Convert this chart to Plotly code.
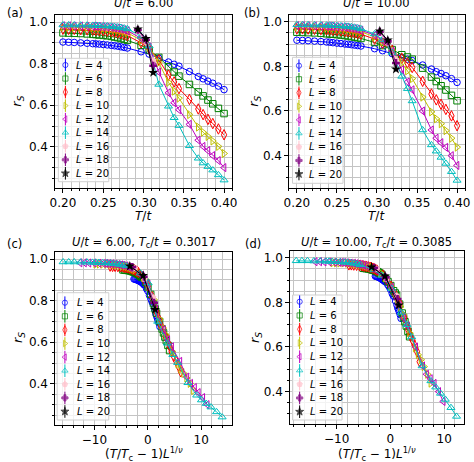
import plotly.graph_objects as go

W, H = 474, 462
FONT = "DejaVu Sans"

# ---------------- data ----------------
L_SMALL = [4, 6, 8, 10, 12, 14]
L_BIG = [16, 18, 20]

T_GRID = [0.200, 0.207, 0.214, 0.222, 0.230, 0.237, 0.241, 0.245, 0.250, 0.255,
          0.260, 0.264, 0.268, 0.272, 0.276, 0.280, 0.297, 0.307, 0.319, 0.331,
          0.338, 0.344, 0.357, 0.368, 0.374, 0.380, 0.386, 0.393, 0.400]

# U/t = 6
rs_u6_L4 = [0.904, 0.903, 0.902, 0.900, 0.898, 0.896, 0.895, 0.894, 0.892, 0.890, 0.888, 0.886, 0.884, 0.881, 0.878, 0.875, 0.857, 0.846, 0.826, 0.808, 0.797, 0.788, 0.762, 0.738, 0.727, 0.716, 0.706, 0.692, 0.675]
rs_u6_L6 = [0.948, 0.947, 0.946, 0.945, 0.943, 0.941, 0.940, 0.938, 0.936, 0.934, 0.931, 0.928, 0.925, 0.921, 0.917, 0.912, 0.888, 0.866, 0.830, 0.785, 0.760, 0.740, 0.700, 0.664, 0.645, 0.625, 0.607, 0.585, 0.560]
rs_u6_L8 = [0.966, 0.965, 0.965, 0.964, 0.963, 0.962, 0.961, 0.960, 0.958, 0.956, 0.954, 0.951, 0.948, 0.945, 0.940, 0.935, 0.900, 0.872, 0.818, 0.745, 0.712, 0.680, 0.628, 0.582, 0.555, 0.532, 0.512, 0.486, 0.458]
rs_u6_L10 = [0.976, 0.976, 0.975, 0.975, 0.974, 0.973, 0.972, 0.971, 0.970, 0.968, 0.966, 0.964, 0.961, 0.958, 0.954, 0.949, 0.912, 0.878, 0.805, 0.710, 0.668, 0.634, 0.555, 0.495, 0.470, 0.450, 0.428, 0.402, 0.368]
rs_u6_L12 = [0.982, 0.982, 0.981, 0.981, 0.980, 0.979, 0.979, 0.978, 0.977, 0.976, 0.974, 0.972, 0.970, 0.967, 0.963, 0.958, 0.922, 0.880, 0.760, 0.660, 0.612, 0.578, 0.508, 0.432, 0.402, 0.382, 0.358, 0.334, 0.300]
rs_u6_L14 = [0.986, 0.986, 0.986, 0.985, 0.985, 0.984, 0.984, 0.983, 0.982, 0.981, 0.980, 0.978, 0.976, 0.974, 0.971, 0.967, 0.932, 0.885, 0.700, 0.595, 0.540, 0.502, 0.405, 0.345, 0.322, 0.305, 0.288, 0.265, 0.240]
T_BIG_U6 = [0.293, 0.303, 0.312]
rs_u6_L16 = [0.955, 0.905, 0.815]
rs_u6_L18 = [0.962, 0.915, 0.790]
rs_u6_L20 = [0.966, 0.920, 0.757]

# U/t = 10
rs_u10_L4 = [0.917, 0.916, 0.915, 0.913, 0.911, 0.909, 0.908, 0.906, 0.904, 0.902, 0.900, 0.899, 0.897, 0.895, 0.893, 0.891, 0.879, 0.870, 0.857, 0.840, 0.832, 0.826, 0.806, 0.788, 0.776, 0.768, 0.758, 0.745, 0.728]
rs_u10_L6 = [0.953, 0.952, 0.951, 0.950, 0.948, 0.946, 0.945, 0.944, 0.942, 0.940, 0.938, 0.936, 0.933, 0.931, 0.928, 0.925, 0.907, 0.893, 0.875, 0.852, 0.842, 0.832, 0.792, 0.752, 0.732, 0.713, 0.694, 0.670, 0.646]
rs_u10_L8 = [0.968, 0.968, 0.967, 0.966, 0.965, 0.964, 0.963, 0.962, 0.961, 0.959, 0.957, 0.955, 0.953, 0.950, 0.947, 0.944, 0.922, 0.903, 0.872, 0.836, 0.815, 0.795, 0.733, 0.676, 0.650, 0.630, 0.607, 0.578, 0.534]
rs_u10_L10 = [0.977, 0.977, 0.976, 0.976, 0.975, 0.974, 0.973, 0.972, 0.971, 0.969, 0.968, 0.966, 0.964, 0.961, 0.958, 0.955, 0.932, 0.910, 0.872, 0.815, 0.780, 0.745, 0.662, 0.596, 0.565, 0.543, 0.512, 0.478, 0.438]
rs_u10_L12 = [0.982, 0.982, 0.981, 0.981, 0.980, 0.979, 0.979, 0.978, 0.977, 0.976, 0.975, 0.973, 0.971, 0.969, 0.966, 0.962, 0.940, 0.915, 0.868, 0.785, 0.730, 0.695, 0.600, 0.515, 0.478, 0.458, 0.437, 0.400, 0.356]
rs_u10_L14 = [0.986, 0.986, 0.986, 0.985, 0.985, 0.984, 0.984, 0.983, 0.982, 0.981, 0.980, 0.979, 0.977, 0.975, 0.972, 0.968, 0.945, 0.920, 0.862, 0.755, 0.700, 0.645, 0.515, 0.448, 0.420, 0.392, 0.365, 0.328, 0.289]
T_BIG_U10 = [0.3035, 0.3135, 0.3237]
rs_u10_L16 = [0.950, 0.905, 0.830]
rs_u10_L18 = [0.955, 0.912, 0.815]
rs_u10_L20 = [0.958, 0.917, 0.787]

# critical temperatures quoted in the panel titles
TC_U6 = 0.3017
TC_U10 = 0.3085
# scaling parameters that reproduce the collapsed x positions seen in (c), (d)
# (relative to the temperatures (a), (b))
TC_SCALE_U6, INV_NU_U6 = 0.3065, 1.448
TC_SCALE_U10, INV_NU_U10 = 0.3175, 1.4615

DATA = {
    6.0: {4: (T_GRID, rs_u6_L4), 6: (T_GRID, rs_u6_L6), 8: (T_GRID, rs_u6_L8),
          10: (T_GRID, rs_u6_L10), 12: (T_GRID, rs_u6_L12), 14: (T_GRID, rs_u6_L14),
          16: (T_BIG_U6, rs_u6_L16), 18: (T_BIG_U6, rs_u6_L18), 20: (T_BIG_U6, rs_u6_L20)},
    10.0: {4: (T_GRID, rs_u10_L4), 6: (T_GRID, rs_u10_L6), 8: (T_GRID, rs_u10_L8),
           10: (T_GRID, rs_u10_L10), 12: (T_GRID, rs_u10_L12), 14: (T_GRID, rs_u10_L14),
           16: (T_BIG_U10, rs_u10_L16), 18: (T_BIG_U10, rs_u10_L18), 20: (T_BIG_U10, rs_u10_L20)},
}

# ---------------- styles ----------------
STYLE = {
    4: ("#0000ff", "circle-open", 6.5),
    6: ("#008000", "square-open", 6.5),
    8: ("#ff0000", "diamond-tall-open", 7.5),
    10: ("#bfbf00", "triangle-right-open", 7),
    12: ("#bf00bf", "triangle-left-open", 7),
    14: ("#00bfbf", "triangle-up-open", 7),
    16: ("#ffc0cb", "pentagon", 7),
    18: ("#800080", "cross", 6.5),
    20: ("#000000", "star", 7.5),
}
GRID = "#c4c4c4"

# panel pixel boxes (x0, x1, y0, y1) and axis ranges
PANEL_PX = {"a": (51, 232, 15, 188), "b": (290, 470, 15, 188),
            "c": (51, 232, 252, 425), "d": (291, 469, 251, 424)}
RANGE_X = {"a": [0.19, 0.41], "b": [0.19, 0.41], "c": [-17.4, 15.8], "d": [-18.7, 13.7]}
RANGE_Y = {"a": [0.202, 1.034], "b": [0.255, 1.03], "c": [0.202, 1.034], "d": [0.255, 1.03]}
AX = {"a": ("x", "y"), "b": ("x2", "y2"), "c": ("x3", "y3"), "d": ("x4", "y4")}

# legend layout (pixels): box x0,x1,y0,y1 ; first entry y ; step ; marker x ; text x
LEG = {"a": ((54.5, 106, 58.3, 181.7), 65.0, 13.54, 61.7, 70.7),
       "b": ((293.7, 345.3, 57.3, 183.3), 65.7, 13.54, 300.3, 308.7),
       "c": ((53.3, 106, 292.7, 420), 302.7, 13.6, 61.2, 71.2),
       "d": ((293.7, 344.3, 295, 420), 301.7, 13.75, 301.0, 309.7)}


def to_data(p, px, py):
    X0, X1, Y0, Y1 = PANEL_PX[p]
    xr, yr = RANGE_X[p], RANGE_Y[p]
    xd = xr[0] + (px - X0) / (X1 - X0) * (xr[1] - xr[0])
    yd = yr[1] - (py - Y0) / (Y1 - Y0) * (yr[1] - yr[0])
    return xd, yd


fig = go.Figure()

PANEL_SRC = {"a": (6.0, None), "b": (10.0, None),
             "c": (6.0, (TC_SCALE_U6, INV_NU_U6)), "d": (10.0, (TC_SCALE_U10, INV_NU_U10))}

for p, (U, scale) in PANEL_SRC.items():
    xa, ya = AX[p]
    for L in L_SMALL + L_BIG:
        T, rs = DATA[U][L]
        if scale is None:
            xs = list(T)
        else:
            tc, inv_nu = scale
            xs = [(t / tc - 1.0) * L ** inv_nu for t in T]
        col, sym, sz = STYLE[L]
        filled = not sym.endswith("open")
        fig.add_trace(go.Scatter(
            x=xs, y=rs, mode="lines+markers", xaxis=xa, yaxis=ya,
            line=dict(color=col, width=1),
            marker=dict(symbol=sym, size=sz, color=col,
                        line=dict(color=col, width=1 if not filled else 0)),
            showlegend=False, hoverinfo="skip"))

    # legend box
    (bx0, bx1, by0, by1), yfirst, step, mx, tx = LEG[p]
    c1 = to_data(p, bx0, by0)
    c2 = to_data(p, bx1, by1)
    fig.add_trace(go.Scatter(
        x=[c1[0], c2[0], c2[0], c1[0], c1[0]], y=[c1[1], c1[1], c2[1], c2[1], c1[1]],
        mode="lines", fill="toself", fillcolor="rgba(255,255,255,0.8)",
        line=dict(color="#d0d0d0", width=1), xaxis=xa, yaxis=ya,
        showlegend=False, hoverinfo="skip"))
    lx, ly, lsym, lcol, lsz = [], [], [], [], []
    for i, L in enumerate(L_SMALL + L_BIG):
        xd, yd = to_data(p, mx, yfirst + i * step)
        lx.append(xd); ly.append(yd)
        col, sym, sz = STYLE[L]
        lsym.append(sym); lcol.append(col); lsz.append(sz * 0.8)
        fig.add_annotation(x=tx / W, y=1 - (yfirst + i * step) / H, xref="paper", yref="paper",
                           text=f"<i>L</i> = {L}", showarrow=False, xanchor="left",
                           yanchor="middle", font=dict(family=FONT, size=10, color="black"))
    # error-bar stroke
    fig.add_trace(go.Scatter(x=lx, y=ly, mode="markers", xaxis=xa, yaxis=ya,
                             marker=dict(symbol="line-ns", size=9, color=lcol,
                                         line=dict(color=lcol, width=1)),
                             showlegend=False, hoverinfo="skip"))
    fig.add_trace(go.Scatter(x=lx, y=ly, mode="markers", xaxis=xa, yaxis=ya,
                             marker=dict(symbol=lsym, size=lsz, color=lcol,
                                         line=dict(color=lcol, width=1)),
                             showlegend=False, hoverinfo="skip"))

# ---------------- axes ----------------
for p in "abcd":
    X0, X1, Y0, Y1 = PANEL_PX[p]
    xa, ya = AX[p]
    xkey = "xaxis" + xa[1:]
    ykey = "yaxis" + ya[1:]
    if p in "ab":
        xt = dict(dtick=0.05, tick0=0, tickformat=".2f")
        xminor = 0.01
    else:
        xt = dict(dtick=10, tick0=0)
        xminor = 2
    common = dict(showline=True, linecolor="black", linewidth=1, mirror=True,
                  ticks="outside", ticklen=3.5, tickwidth=0.8, tickcolor="black",
                  showgrid=True, gridcolor=GRID, gridwidth=0.8, zeroline=False,
                  tickfont=dict(family=FONT, size=12, color="black"))
    fig.layout[xkey] = dict(domain=[X0 / W, X1 / W], range=RANGE_X[p], anchor=ya,
                            minor=dict(dtick=xminor, tick0=0, showgrid=True, gridcolor=GRID,
                                       gridwidth=0.8, ticks="outside", ticklen=2, tickcolor="black"),
                            **xt, **common)
    fig.layout[ykey] = dict(domain=[1 - Y1 / H, 1 - Y0 / H], range=RANGE_Y[p], anchor=xa,
                            dtick=0.2, tick0=0, tickformat=".1f",
                            minor=dict(dtick=0.05, tick0=0, showgrid=True, gridcolor=GRID,
                                       gridwidth=0.8, ticks="outside", ticklen=2, tickcolor="black"),
                            **common)

# ---------------- texts ----------------
def ann(text, px, py, size, xanchor="center", yanchor="middle", angle=0):
    fig.add_annotation(x=px / W, y=1 - py / H, xref="paper", yref="paper", text=text,
                       showarrow=False, xanchor=xanchor, yanchor=yanchor, textangle=angle,
                       font=dict(family=FONT, size=size, color="black"))

ann("<i>U</i>/<i>t</i> = 6.00", 141.5, 3, 11.5)
ann("<i>U</i>/<i>t</i> = 10.00", 380, 3, 11.5)
ann(f"<i>U</i>/<i>t</i> = 6.00, <i>T</i><sub>c</sub>/<i>t</i> = {TC_U6:.4f}", 141.5, 242, 11.5)
ann(f"<i>U</i>/<i>t</i> = 10.00, <i>T</i><sub>c</sub>/<i>t</i> = {TC_U10:.4f}", 380, 242, 11.5)
ann("(a)", 0, 13, 11.5, xanchor="left")
ann("(b)", 242, 13, 11.5, xanchor="left")
ann("(c)", 0, 244, 11.5, xanchor="left")
ann("(d)", 243, 244, 11.5, xanchor="left")
for px_, py_ in [(13.3, 101.7), (255.5, 101.7), (13.3, 338), (255.5, 338)]:
    ann("<i>r</i><sub><i>S</i></sub>", px_, py_, 13, angle=-90)
ann("<i>T</i>/<i>t</i>", 141.5, 216, 12)
ann("<i>T</i>/<i>t</i>", 380, 216, 12)
ann("(<i>T</i>/<i>T</i><sub>c</sub> − 1)<i>L</i><sup>1/<i>ν</i></sup>", 141.5, 453.5, 12)
ann("(<i>T</i>/<i>T</i><sub>c</sub> − 1)<i>L</i><sup>1/<i>ν</i></sup>", 380, 453.5, 12)

fig.update_layout(width=W, height=H, margin=dict(l=0, r=0, t=0, b=0),
                  paper_bgcolor="white", plot_bgcolor="white", showlegend=False,
                  font=dict(family=FONT))

fig.write_html("out.html", config={"displayModeBar": False},
               post_script="document.body.style.margin='0px';document.body.style.overflow='hidden';")
